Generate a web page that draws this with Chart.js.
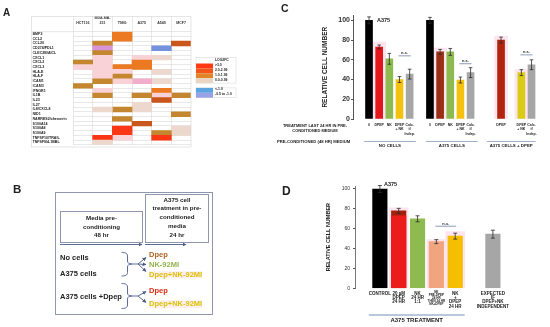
<!DOCTYPE html>
<html>
<head>
<meta charset="utf-8">
<script src="https://cdn.jsdelivr.net/npm/chart.js@4.4.1/dist/chart.umd.min.js"></script>
<style>
  body { margin: 0; width: 550px; height: 327px; background: #fff; position: relative; overflow: hidden;
         font-family: "Liberation Sans", Arial, sans-serif; }
  canvas { position: absolute; }
  .t { position: absolute; font-weight: bold; white-space: nowrap; line-height: 1; color: #222; }
  .mid { transform: translateY(-50%); }
  .ctr { transform: translate(-50%, -50%); text-align: center; }
  svg { position: absolute; left: 0; top: 0; }
</style>
</head>
<body>

<canvas id="heat" width="160" height="131" style="left:31px;top:16px"></canvas>
<canvas id="chartC" width="275" height="165" style="left:275px;top:0px"></canvas>
<canvas id="chartD" width="275" height="162" style="left:275px;top:165px"></canvas>

<svg width="550" height="327">
  <defs>
    <marker id="ah" markerWidth="4" markerHeight="4" refX="3.5" refY="2" orient="auto" markerUnits="userSpaceOnUse">
      <path d="M0,0 L4,2 L0,4 z" fill="#4c5c8a"/>
    </marker>
  </defs>
  <!-- heatmap frame -->
  <rect x="31.5" y="16.5" width="159.5" height="130.5" fill="none" stroke="#d4d4d4" stroke-width="0.6"/>
  <line x1="31.5" y1="31.7" x2="73" y2="31.7" stroke="#d4d4d4" stroke-width="0.6"/>
  <!-- heatmap legend -->
  <rect x="196" y="57.5" width="40" height="25.6" fill="none" stroke="#d4d4d4" stroke-width="0.5"/>
  <rect x="196" y="63.5" width="17" height="4.9" fill="#ff3a12"/>
  <rect x="196" y="68.4" width="17" height="4.9" fill="#f2541a"/>
  <rect x="196" y="73.3" width="17" height="4.9" fill="#e4842a"/>
  <rect x="196" y="78.2" width="17" height="4.9" fill="#e9d5c4"/>
  <rect x="196" y="87.9" width="40" height="9.8" fill="none" stroke="#d4d4d4" stroke-width="0.5"/>
  <rect x="196" y="87.9" width="17" height="4.9" fill="#5aa5e0"/>
  <rect x="196" y="92.8" width="17" height="4.9" fill="#9aa2e6"/>
  <!-- panel B -->
  <rect x="55.5" y="192.5" width="157" height="122" fill="none" stroke="#8e97ad" stroke-width="1"/>
  <rect x="60.5" y="211.5" width="82" height="31" fill="none" stroke="#8e97ad" stroke-width="1"/>
  <rect x="145.5" y="194.5" width="63" height="48" fill="none" stroke="#8e97ad" stroke-width="1"/>
  <g stroke="#4c5c8a" stroke-width="0.9" fill="none">
    <line x1="60" y1="244.5" x2="142" y2="244.5" marker-end="url(#ah)"/>
    <line x1="145" y1="244.5" x2="186" y2="244.5" marker-end="url(#ah)"/>
    <path d="M121.5,252.5 C125,252.5 127.5,253 127.5,256 L127.5,261 C127.5,263 129,264 132,264 C129,264 127.5,265 127.5,267 L127.5,272.5 C127.5,275.5 125,276 121.5,276"/>
    <path d="M132,264 L138,264"/>
    <line x1="138" y1="264" x2="146" y2="257.5" marker-end="url(#ah)"/>
    <line x1="138" y1="264" x2="146" y2="264.5" marker-end="url(#ah)"/>
    <line x1="138" y1="264" x2="146" y2="271.5" marker-end="url(#ah)"/>
    <path d="M121.5,283.5 C125,283.5 127.5,284 127.5,287 L127.5,293 C127.5,295 129,296 132,296 C129,296 127.5,297 127.5,299 L127.5,305 C127.5,308 125,308.5 121.5,308.5"/>
    <path d="M132,296 L138,296"/>
    <line x1="138" y1="296" x2="146" y2="291.5" marker-end="url(#ah)"/>
    <line x1="138" y1="296" x2="146" y2="302.5" marker-end="url(#ah)"/>
  </g>
</svg>

<!-- panel letters -->
<div class="t mid" style="left:3px;top:12.5px;font-size:10px">A</div>
<div class="t mid" style="left:13px;top:190px;font-size:11.5px">B</div>
<div class="t mid" style="left:281px;top:7.5px;font-size:10.5px">C</div>
<div class="t mid" style="left:282px;top:190.5px;font-size:12px">D</div>

<!-- heatmap legend text -->
<div class="t mid" style="left:215px;top:60.5px;font-size:3.4px">LOG2FC</div>
<div class="t mid" style="left:215px;top:66px;font-size:3.4px">&gt;3.0</div>
<div class="t mid" style="left:215px;top:70.9px;font-size:3.4px">2.0-2.99</div>
<div class="t mid" style="left:215px;top:75.8px;font-size:3.4px">1.0-1.99</div>
<div class="t mid" style="left:215px;top:80.7px;font-size:3.4px">0.0-0.99</div>
<div class="t mid" style="left:215px;top:90.4px;font-size:3.4px">&lt;-1.0</div>
<div class="t mid" style="left:215px;top:95.3px;font-size:3.4px">-0.5 to -1.0</div>

<!-- panel B text -->
<div class="t" style="left:60px;top:214px;width:83px;text-align:center;font-size:6.2px;line-height:8.5px">Media pre-<br>conditioning<br>48 hr</div>
<div class="t" style="left:145px;top:195.6px;width:64px;text-align:center;font-size:6.2px;line-height:8.75px">A375 cell<br>treatment in pre-<br>conditioned<br>media<br>24 hr</div>
<div class="t mid" style="left:60px;top:258.3px;font-size:7.5px">No cells</div>
<div class="t mid" style="left:60px;top:274px;font-size:7.5px">A375 cells</div>
<div class="t mid" style="left:60px;top:296.7px;font-size:7.5px">A375 cells +Dpep</div>
<div class="t mid" style="left:149px;top:255px;font-size:7.5px;color:#b5621f">Dpep</div>
<div class="t mid" style="left:149px;top:264.5px;font-size:7.5px;color:#93b34c">NK-92MI</div>
<div class="t mid" style="left:149px;top:274.5px;font-size:7.5px;color:#e2bf00;background:#fdeef2">Dpep+NK-92MI</div>
<div class="t mid" style="left:149px;top:291px;font-size:7.5px;color:#e02b12">Dpep</div>
<div class="t mid" style="left:149px;top:304px;font-size:7.5px;color:#dcc400;background:#fdeef2">Dpep+NK-92MI</div>

<!-- panel C / D text -->
<div class="t ctr" style="left:383.5px;top:20.5px;font-size:5.5px">A375</div>
<div class="t ctr" style="left:390.5px;top:184.5px;font-size:5.5px">A375</div>
<div class="t" style="left:277px;top:122.8px;width:76px;text-align:center;font-size:4px;line-height:5px">TREATMENT LAST 24 HR IN PRE-<br>CONDITIONED MEDIUM</div>
<div class="t mid" style="left:277px;top:141.7px;font-size:4.2px">PRE-CONDITIONED (48 HR) MEDIUM</div>

<script>
Chart.defaults.font.family = '"Liberation Sans", Arial, sans-serif';
Chart.defaults.color = '#222';

// ---------- A: heatmap ----------
const genes = ['BMP2', 'CCL2', 'CCL20', 'CD274/PDL1', 'CLEC2B/AICL', 'CXCL1', 'CXCL2', 'CXCL3', 'HLA-E', 'HLA-F',
  'ICAM1', 'ICAM3', 'IFNGR1', 'IL1B', 'IL23', 'IL27', 'IL8/CXCL8', 'NID1', 'RARRES2/chemerin', 'S100A14',
  'S100A8', 'S100A9', 'TNFSF10/TRAIL', 'TNFSF9/4-1BBL'];
const cellLines = [['HCT116'], ['MDA-MB-', '231'], ['T98G'], ['A375'], ['A549'], ['MCF7']];
// log2FC bin per gene: r >3, o/d 2-2.99, b 1-1.99, e/p 0-0.99, v/k violet-pink, u < -1, '' blank
const hct116 = ['', '', '', '', '', '', 'b', 'p', '', '', '', 'b', '', '', '', '', '', '', '', '', '', '', '', ''];
const mda231 = ['', '', 'b', 'v', 'b', 'p', 'p', 'p', 'p', 'p', 'b', '', 'p', 'b', '', '', 'e', '', '', '', '', '', 'r', 'e'];
const t98g   = ['o', 'o', '', '', '', '', '', 'o', 'p', 'b', 'p', '', '', '', '', '', 'b', '', 'b', '', 'r', 'r', 'p', ''];
const a375   = ['', '', '', '', '', 'p', 'o', 'o', '', '', 'k', '', '', 'b', '', 'e', 'e', '', '', 'd', '', '', '', ''];
const a549   = ['', '', '', 'u', '', 'e', '', '', 'e', '', 'e', '', 'o', 'p', 'd', '', '', '', '', '', '', 'b', 'r', ''];
const mcf7   = ['', '', 'd', '', '', '', '', '', '', '', '', '', '', 'b', '', '', '', 'b', '', '', 'e', 'e', '', ''];
const heatCols = [hct116, mda231, t98g, a375, a549, mcf7];
const binColors = { r: '#fb3614', o: '#ec7a22', d: '#c9561c', b: '#c4862e', e: '#ecd8cc', p: '#f8d2d6',
  v: '#d994d8', k: '#f2afcc', u: '#7391dc' };

new Chart(document.getElementById('heat'), {
  type: 'bar',
  data: {
    labels: genes,
    datasets: heatCols.map((col, c) => ({
      data: genes.map(() => [c, c + 1]),
      backgroundColor: col.map(k => binColors[k] || 'rgba(0,0,0,0)'),
      borderWidth: 0,
      grouped: false,
      barPercentage: 1,
      categoryPercentage: 1
    }))
  },
  options: {
    indexAxis: 'y',
    responsive: false,
    animation: false,
    events: [],
    layout: { padding: { left: 1.5 } },
    plugins: { legend: { display: false }, tooltip: { enabled: false } },
    scales: {
      x: {
        position: 'top', min: 0, max: 6,
        afterBuildTicks: s => { s.ticks = [0, 1, 2, 3, 4, 5, 6].map(v => ({ value: v })) },
        afterFit: s => { s.height = 15.7 },
        grid: { color: '#d9d9d9', lineWidth: 0.6, tickLength: 15.7 },
        border: { display: false },
        ticks: { autoSkip: false, maxRotation: 0, padding: -8.6, labelOffset: 9.8,
          font: { size: 3.6, weight: 'bold', lineHeight: 1.15 }, color: '#333',
          callback: v => cellLines[v] || '' }
      },
      y: {
        afterFit: s => { s.width = 40.5 },
        grid: { color: '#d9d9d9', lineWidth: 0.6, drawTicks: false },
        border: { display: false },
        ticks: { autoSkip: false, crossAlign: 'far', padding: 0,
          font: { size: 3.6, weight: 'bold' }, color: '#222' }
      }
    }
  }
});

// ---------- shared marks plugin (error bars, n.s., group lines) ----------
function marksPlugin(cfg) {
  return {
    id: cfg.id,
    afterDatasetsDraw(chart) {
      const { ctx, scales: { x, y } } = chart;
      ctx.save();
      ctx.strokeStyle = '#2b2b2b';
      ctx.lineWidth = 0.8;
      cfg.pos.forEach((p, i) => {
        const e = cfg.err[i];
        if (e == null) return;
        const px = x.getPixelForValue(p);
        const t = y.getPixelForValue(cfg.val[i] + e);
        const b = y.getPixelForValue(cfg.val[i] - e);
        ctx.beginPath();
        ctx.moveTo(px, t); ctx.lineTo(px, b);
        ctx.moveTo(px - cfg.cap, t); ctx.lineTo(px + cfg.cap, t);
        ctx.moveTo(px - cfg.cap, b); ctx.lineTo(px + cfg.cap, b);
        ctx.stroke();
      });
      ctx.textAlign = 'center';
      cfg.ns.forEach(([a, b, v]) => {
        const x1 = x.getPixelForValue(a) - 1, x2 = x.getPixelForValue(b) + 1, py = y.getPixelForValue(v);
        ctx.strokeStyle = '#8d9bb8';
        ctx.lineWidth = 1;
        ctx.beginPath(); ctx.moveTo(x1, py); ctx.lineTo(x2, py); ctx.stroke();
        ctx.fillStyle = '#222';
        ctx.font = 'bold 4px "Liberation Sans"';
        ctx.textBaseline = 'bottom';
        ctx.fillText('n.s.', (x1 + x2) / 2, py - 0.5);
      });
      cfg.groups.forEach(([label, a, b]) => {
        const x1 = x.getPixelForValue(a), x2 = x.getPixelForValue(b);
        ctx.strokeStyle = cfg.groupColor;
        ctx.lineWidth = cfg.groupWidth;
        ctx.beginPath(); ctx.moveTo(x1, cfg.groupY); ctx.lineTo(x2, cfg.groupY); ctx.stroke();
        ctx.fillStyle = '#222';
        ctx.font = cfg.groupFont;
        ctx.textBaseline = 'middle';
        ctx.fillText(label, (x1 + x2) / 2, cfg.groupY + cfg.groupGap);
      });
      ctx.restore();
    }
  };
}

// ---------- C ----------
const cPos = [0, 1, 2, 3, 4, 6, 7, 8, 9, 10, 13, 15, 16];
const cTicks = ['0', 'DPEP', 'NK', ['DPEP', '+ NK'], ['Calc.', 'if', 'Indep.'],
  '0', 'DPEP', 'NK', ['DPEP', '+ NK'], ['Calc.', 'if', 'Indep.'],
  'DPEP', ['DPEP', '+ NK'], ['Calc.', 'if', 'Indep.']];
const cValues = [100, 73, 61, 40, 45.5, 100, 68, 68, 39.5, 47, 80, 47, 55];
const cErrors = [3.5, 2, 5.5, 3, 5, 3, 2.5, 3.5, 3, 5, 3, 3, 5];
const cHighlight = [null, 78, null, null, null, null, 72, null, null, null, 84, 50, null];
const cColors = ['#000000', '#e3161b', '#8dbb4f', '#f4c10f', '#a6a6a6',
  '#000000', '#9b2f16', '#8dbb4f', '#f4c10f', '#a6a6a6',
  '#b1250f', '#d9cc17', '#a6a6a6'];
const cNs = [[3, 4, 64], [9, 10, 56], [15, 16, 65]];
const cGroups = [['NO CELLS', -0.48, 4.6], ['A375 CELLS', 5.6, 10.7], ['A375 CELLS + DPEP', 11.6, 16.4]];
const cYTicks = [0, 20, 40, 60, 80, 100];

new Chart(document.getElementById('chartC'), {
  type: 'bar',
  data: {
    datasets: [
      { data: cPos.map((p, i) => ({ x: p, y: cValues[i] })), backgroundColor: cColors,
        barThickness: 7, grouped: false, order: 1 },
      { data: cPos.map((p, i) => ({ x: p, y: cHighlight[i] })).filter(d => d.y != null),
        backgroundColor: '#fde4ef', barThickness: 13, grouped: false, order: 2 }
    ]
  },
  options: {
    responsive: false,
    animation: false,
    events: [],
    layout: { padding: { top: 15.4, right: 5 } },
    plugins: { legend: { display: false }, tooltip: { enabled: false } },
    scales: {
      x: {
        type: 'linear', min: -0.85, max: 16.6,
        afterBuildTicks: s => { s.ticks = cPos.map(v => ({ value: v })) },
        afterFit: s => { s.height = 46 },
        grid: { display: false, drawTicks: false },
        border: { display: false },
        ticks: { autoSkip: false, maxRotation: 0, padding: 3.7,
          font: { size: 3.5, weight: 'bold', lineHeight: 1.3 }, color: '#222',
          callback: (v, i) => cTicks[i] }
      },
      y: {
        min: 0, max: 105,
        afterBuildTicks: s => { s.ticks = cYTicks.map(v => ({ value: v })) },
        afterFit: s => { s.width = 78 },
        grid: { drawOnChartArea: false, tickLength: 2, color: '#555' },
        border: { color: '#555', width: 1 },
        ticks: { padding: 1, font: { size: 7, weight: 'bold' }, color: '#333' },
        title: { display: true, text: 'RELATIVE CELL NUMBER', font: { size: 6.5, weight: 'bold' },
          color: '#222', padding: { top: 46, bottom: 0 } }
      }
    }
  },
  plugins: [marksPlugin({ id: 'marksC', pos: cPos, val: cValues, err: cErrors, cap: 1.8, ns: cNs,
    groups: cGroups, groupY: 141.5, groupGap: 4.5, groupColor: '#9fb1cc', groupWidth: 1,
    groupFont: 'bold 4.4px "Liberation Sans"' })]
});

// ---------- D ----------
const dPos = [0, 1, 2, 3, 4, 6];
const dTicks = ['CONTROL', ['20 µM', 'DPEP', '24 HR'], ['NK', '24 HR', '1:1'],
  ['NK', 'PRE-DPEP', '24 HR', 'THEN 24 HR', 'NK+DPEP'], ['NK', '+', 'DPEP', '24 HR'],
  ['EXPECTED', 'IF', 'DPEP+NK', 'INDEPENDENT']];
const dValues = [100, 78, 70, 47, 52.5, 54.5];
const dErrors = [3.5, 2.5, 3, 2, 3, 4];
const dInner = [null, 73, null, null, null, null];
const dHighlight = [null, 81, null, 49, 57, null];
const dColors = ['#000000', '#a3200f', '#8dbb4f', '#f0a57f', '#f6be00', '#a6a6a6'];
const dNs = [[3, 4, 62.5]];
const dGroups = [['A375 TREATMENT', -0.59, 4.5]];
const dYTicks = [0, 20, 40, 60, 80, 100];

new Chart(document.getElementById('chartD'), {
  type: 'bar',
  data: {
    datasets: [
      { data: dPos.map((p, i) => ({ x: p, y: dInner[i] })).filter(d => d.y != null),
        backgroundColor: '#ec1c1c', barThickness: 14.5, grouped: false, order: 1 },
      { data: dPos.map((p, i) => ({ x: p, y: dValues[i] })), backgroundColor: dColors,
        barThickness: 14.5, grouped: false, order: 2 },
      { data: dPos.map((p, i) => ({ x: p, y: dHighlight[i] })).filter(d => d.y != null),
        backgroundColor: '#fde4ef', barThickness: 19, grouped: false, order: 3 }
    ]
  },
  options: {
    responsive: false,
    animation: false,
    events: [],
    layout: { padding: { top: 21, right: 30 } },
    plugins: { legend: { display: false }, tooltip: { enabled: false } },
    scales: {
      x: {
        type: 'linear', min: -0.59, max: 6.71,
        afterBuildTicks: s => { s.ticks = dPos.map(v => ({ value: v })) },
        afterFit: s => { s.height = 38.7 },
        grid: { display: false, drawTicks: false },
        border: { display: false },
        ticks: { autoSkip: false, maxRotation: 0, padding: 2.9, color: '#222',
          font: ctx => ctx.index === 3 ? { size: 3, weight: 'bold', lineHeight: 0.95 }
                                       : { size: 4.5, weight: 'bold', lineHeight: 0.97 },
          callback: (v, i) => dTicks[i] }
      },
      y: {
        min: 0, max: 103,
        afterBuildTicks: s => { s.ticks = dYTicks.map(v => ({ value: v })) },
        afterFit: s => { s.width = 80 },
        grid: { drawOnChartArea: false, tickLength: 2, color: '#555' },
        border: { color: '#555', width: 0.8 },
        ticks: { padding: 3, font: { size: 5 }, color: '#333' },
        title: { display: true, text: 'RELATIVE CELL NUMBER', font: { size: 5.5, weight: 'bold' },
          color: '#222', padding: { top: 49.7, bottom: 0 } }
      }
    }
  },
  plugins: [marksPlugin({ id: 'marksD', pos: dPos, val: dValues, err: dErrors, cap: 2, ns: dNs,
    groups: dGroups, groupY: 150, groupGap: 5.5, groupColor: '#b8c8dc', groupWidth: 2,
    groupFont: 'bold 6px "Liberation Sans"' })]
});
</script>
</body>
</html>
